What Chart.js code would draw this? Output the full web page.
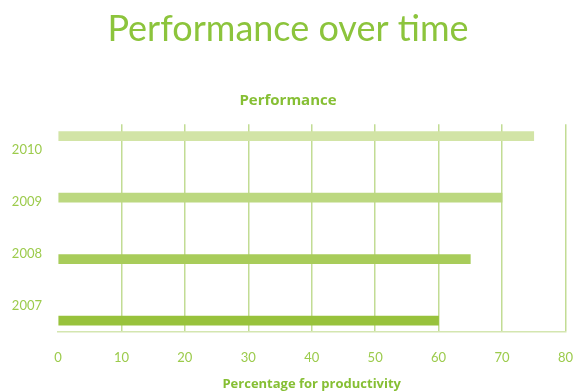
<!DOCTYPE html>
<html>
<head>
<meta charset="utf-8">
<script src="https://cdn.jsdelivr.net/npm/chart.js@4"></script>
<style>
  html, body { margin: 0; padding: 0; background: #fff; }
</style>
</head>
<body>
<canvas id="perfChart" width="576" height="392"></canvas>
<script>
// Dane wykresu
const years = ['2007', '2008', '2009', '2010'];
const performance = [60, 65, 70, 75];
const barColors = ['#98c23c', '#a8cc5a', '#bcd880', '#d2e4a6'];
const xTicks = [0, 10, 20, 30, 40, 50, 60, 70, 80];

const green = '#8cc43c';
const tickGreen = '#9ccb4c';
const gridGreen = '#c2dc94';

// Słupki idą na ukrytą oś liniową (indeks roku), etykiety lat na osi kategorii
const barData = performance.map((v, i) => ({ x: v, y: i }));

const ctx = document.getElementById('perfChart').getContext('2d');
const perfChart = new Chart(ctx, {
    type: 'bar',
    data: {
        labels: years,
        datasets: [{
            label: 'Performance',
            data: barData,
            backgroundColor: barColors,
            borderWidth: 0,
            barThickness: 9,
            yAxisID: 'yBar'
        }]
    },
    options: {
        indexAxis: 'y',
        responsive: false,
        animation: false,
        plugins: {
            legend: { display: false },
            tooltip: { enabled: false },
            title: {
                display: true,
                text: 'Performance over time',
                color: green,
                font: { family: 'Lato', size: 36, weight: 'normal' },
                padding: { top: 8, bottom: 41 }
            },
            subtitle: {
                display: true,
                text: 'Performance',
                color: '#86bf34',
                font: { family: 'Open Sans', size: 15, weight: 'bold' },
                padding: { top: 0, bottom: 14 }
            }
        },
        scales: {
            x: {
                type: 'linear',
                min: 0,
                max: 80,
                afterBuildTicks: axis => { axis.ticks = xTicks.map(v => ({ value: v })); },
                afterFit: axis => { axis.height = 60; },
                grid: {
                    color: c => (c.tick && c.tick.value === 0) ? 'rgba(0,0,0,0)' : gridGreen,
                    lineWidth: 1.5,
                    drawTicks: true,
                    tickLength: 15,
                    tickColor: 'rgba(0,0,0,0)'
                },
                border: { display: true, color: '#d4e6b0', width: 1.5 },
                ticks: {
                    color: tickGreen,
                    font: { family: 'Lato', size: 13 },
                    padding: 3
                },
                title: {
                    display: true,
                    text: 'Percentage for productivity',
                    color: '#86bf34',
                    font: { family: 'Open Sans', size: 13, weight: 'bold' },
                    padding: { top: 5, bottom: 0 }
                }
            },
            y: {
                type: 'category',
                reverse: true,
                offset: true,
                afterFit: axis => { axis.width = 58; },
                grid: { display: false, drawTicks: false },
                border: { display: false },
                ticks: {
                    color: tickGreen,
                    font: { family: 'Lato', size: 13 },
                    padding: 16
                }
            },
            yBar: {
                type: 'linear',
                display: false,
                offset: false,
                min: -0.186,
                max: 3.194
            }
        }
    }
});
</script>
</body>
</html>
